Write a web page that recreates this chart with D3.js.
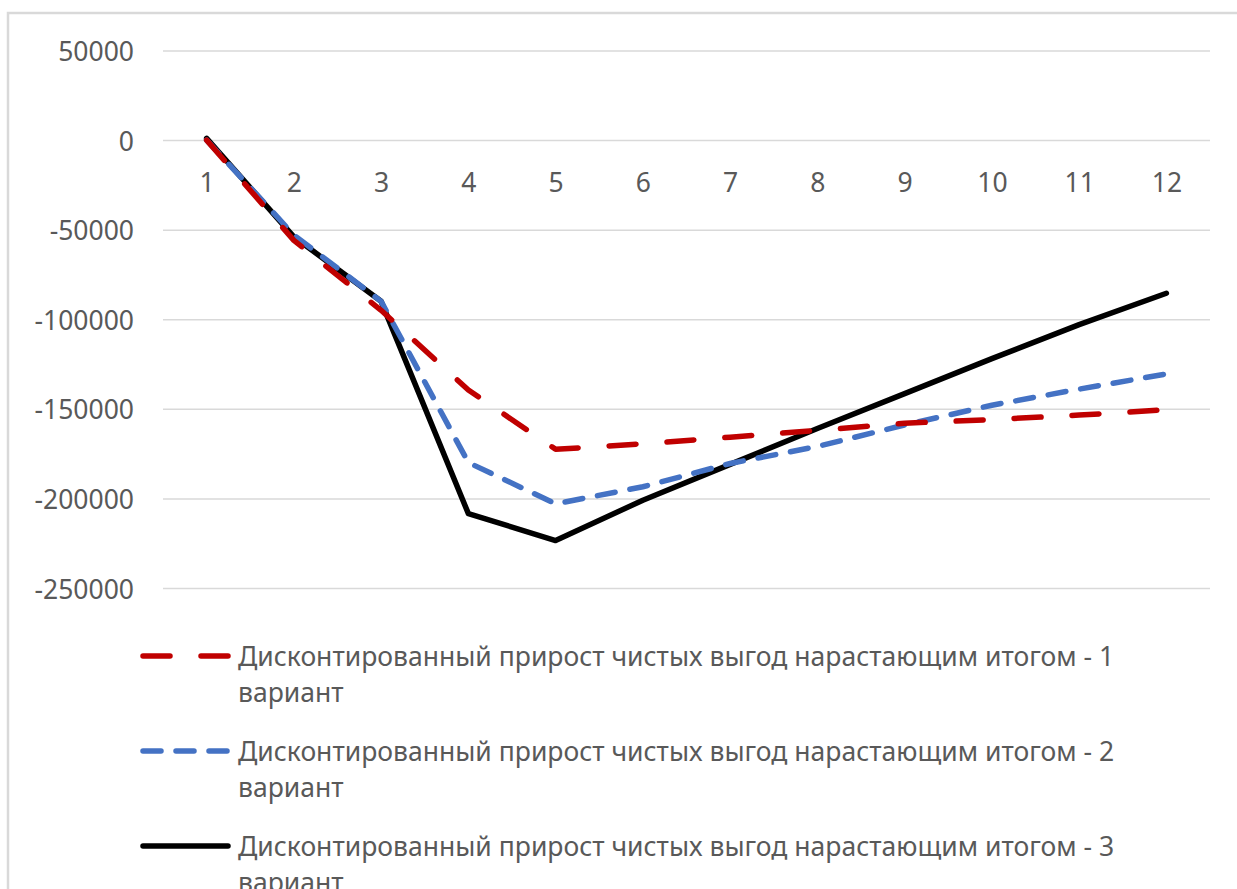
<!DOCTYPE html>
<html>
<head>
<meta charset="utf-8">
<script src="https://cdn.jsdelivr.net/npm/d3@7"></script>
<style>
  html, body { margin: 0; padding: 0; background: #fff; overflow: hidden; }
  svg { display: block; font-family: "Noto Sans", "Open Sans", sans-serif; }
</style>
</head>
<body>
<div id="chartCtn"></div>
<script>
// periods on the category axis
var categories = [ 1, 2, 3, 4, 5, 6, 7, 8, 9, 10, 11, 12 ];

// discounted cumulative net benefit, by variant
var variant1 = [ 0, -56000, -95000, -139500, -172600, -169500, -165800, -162000, -158000, -156000, -153500, -150500 ];
var variant2 = [ 0, -53000, -90000, -180000, -203000, -193500, -180500, -171000, -159000, -148000, -139000, -130500 ];
var variant3 = [ 1000, -54000, -90000, -208500, -223500, -201000, -181000, -161000, -141500, -122000, -103000, -85500 ];

var yTicks = [ 50000, 0, -50000, -100000, -150000, -200000, -250000 ];

var seriesNames = [
	"Дисконтированный прирост чистых выгод нарастающим итогом - 1 вариант",
	"Дисконтированный прирост чистых выгод нарастающим итогом - 2 вариант",
	"Дисконтированный прирост чистых выгод нарастающим итогом - 3 вариант"
];

var width = 1237, height = 889;
var textColor = "#595959", gridColor = "#d9d9d9";
var fontSize = "26.5px";

var series = [
	{ name: seriesNames[0], values: variant1, color: "#c00000", dash: "27 31" },
	{ name: seriesNames[1], values: variant2, color: "#4472c4", dash: "18 15" },
	{ name: seriesNames[2], values: variant3, color: "#000000", dash: null }
];

var svg = d3.select( "#chartCtn" )
	.append( "svg" )
	.attr( "width", width )
	.attr( "height", height );

// chart area frame (only top and left edges are in view)
svg.append( "path" )
	.attr( "d", "M8," + height + " V13 H" + width )
	.attr( "fill", "none" )
	.attr( "stroke", gridColor )
	.attr( "stroke-width", 2.5 );

var xScale = d3.scalePoint()
	.domain( categories )
	.range( [ 163, 1210 ] )
	.padding( 0.5 );

var yScale = d3.scaleLinear()
	.domain( [ -250000, 50000 ] )
	.range( [ 588, 50.5 ] );

// horizontal gridlines
svg.append( "g" )
	.attr( "transform", "translate(163,0)" )
	.call( d3.axisLeft( yScale ).tickValues( yTicks ).tickSize( -1047 ).tickFormat( "" ) )
	.call( g => g.select( ".domain" ).remove() )
	.call( g => g.selectAll( "line" ).attr( "stroke", gridColor ).attr( "stroke-width", 1.5 ) );

// y labels (plain hyphen for negatives, like Excel)
var yAxis = svg.append( "g" )
	.attr( "transform", "translate(134,0)" )
	.call( d3.axisLeft( yScale ).tickValues( yTicks ).tickSize( 0 ).tickPadding( 0 ).tickFormat( d => String( d ) ) );
yAxis.select( ".domain" ).remove();
yAxis.selectAll( "text" )
	.attr( "fill", textColor )
	.attr( "dy", "0" )
	.attr( "dominant-baseline", "central" )
	.style( "font-size", fontSize )
	.style( "font-family", "\"Noto Sans\", sans-serif" );

// category labels sit below the zero line
var xAxis = svg.append( "g" )
	.attr( "transform", `translate(0, ${ yScale( 0 ) + 42 })` )
	.call( d3.axisBottom( xScale ).tickSize( 0 ).tickPadding( 0 ) );
xAxis.select( ".domain" ).remove();
xAxis.selectAll( "text" )
	.attr( "fill", textColor )
	.attr( "dy", "0" )
	.attr( "y", 0 )
	.attr( "dominant-baseline", "central" )
	.style( "font-size", fontSize )
	.style( "font-family", "\"Noto Sans\", sans-serif" );

var line = d3.line()
	.x( ( d, i ) => xScale( categories[ i ] ) )
	.y( d => yScale( d ) );

// draw back to front: black, blue, red like the picture shows
[ 2, 1, 0 ].forEach( function ( k ) {
	var s = series[ k ];
	svg.append( "path" )
		.datum( s.values )
		.attr( "d", line )
		.attr( "fill", "none" )
		.attr( "stroke", s.color )
		.attr( "stroke-width", 5.5 )
		.attr( "stroke-linecap", "round" )
		.attr( "stroke-linejoin", "round" )
		.attr( "stroke-dasharray", s.dash );
} );

// legend
var legendTop = 656, legendStep = 95, lineHeight = 36, maxTextWidth = 960;

var legend = svg.append( "g" );
series.forEach( function ( s, k ) {
	var y = legendTop + k * legendStep;
	legend.append( "line" )
		.attr( "x1", 143 ).attr( "x2", 228 )
		.attr( "y1", y ).attr( "y2", y )
		.attr( "stroke", s.color )
		.attr( "stroke-width", 5.5 )
		.attr( "stroke-linecap", "round" )
		.attr( "stroke-dasharray", s.dash );

	var text = legend.append( "text" )
		.attr( "x", 238 )
		.attr( "y", y )
		.attr( "dominant-baseline", "central" )
		.attr( "fill", textColor )
		.style( "font-size", fontSize );

	// simple word wrap
	var words = s.name.split( " " ), lineWords = [], lineNo = 0;
	var tspan = text.append( "tspan" ).attr( "x", 238 ).attr( "y", y );
	words.forEach( function ( w ) {
		lineWords.push( w );
		tspan.text( lineWords.join( " " ) );
		if ( tspan.node().getComputedTextLength() > maxTextWidth && lineWords.length > 1 ) {
			lineWords.pop();
			tspan.text( lineWords.join( " " ) );
			lineWords = [ w ];
			lineNo++;
			tspan = text.append( "tspan" ).attr( "x", 238 ).attr( "y", y + lineNo * lineHeight ).text( w );
		}
	} );
} );
</script>
</body>
</html>
